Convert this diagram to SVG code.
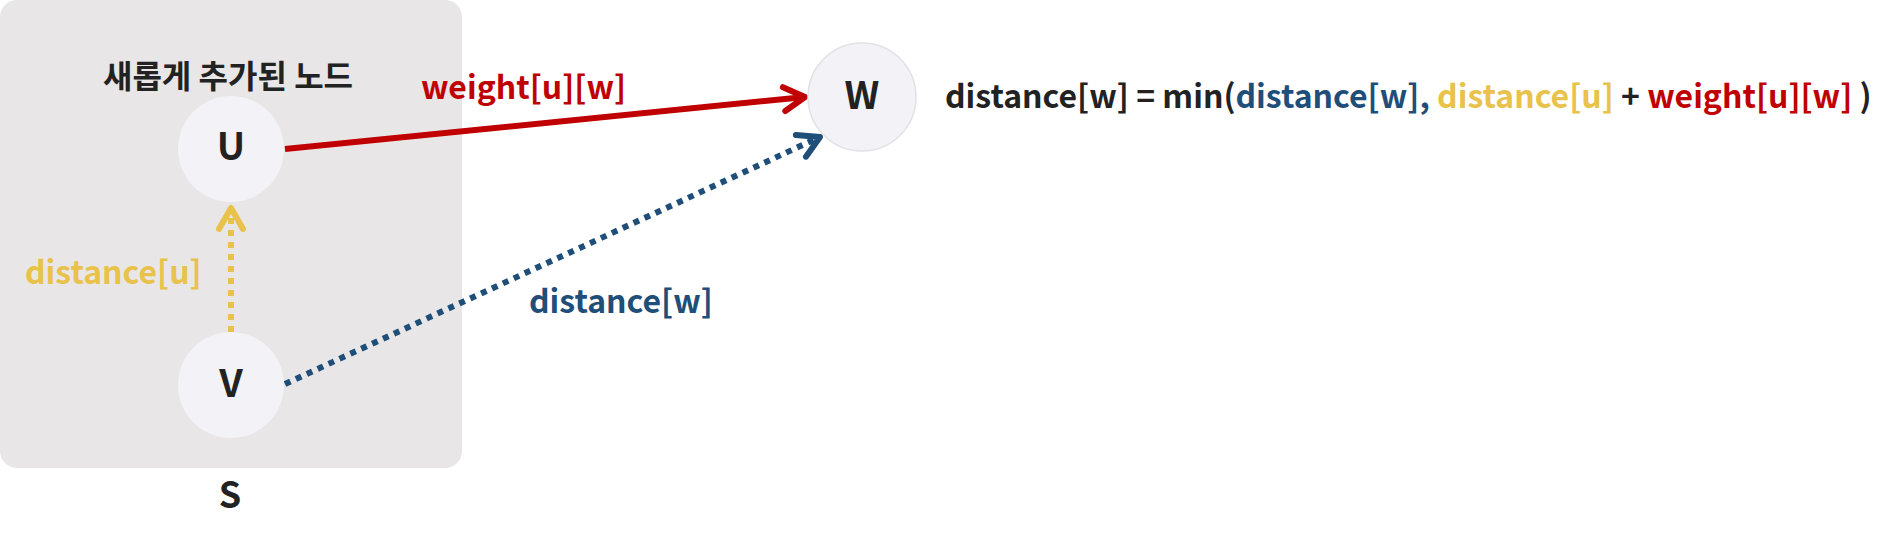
<svg xmlns="http://www.w3.org/2000/svg" width="1894" height="546" viewBox="0 0 1894 546">
<style>
text{font-family:"Noto Sans CJK KR","Noto Sans",sans-serif;font-weight:700}
.node{fill:#f3f2f6}
.lbl{font-size:38px;fill:#222;text-anchor:middle}
.red{fill:#c00000}.yel{fill:#e8c24a}.blu{fill:#1f4e79}.blk{fill:#222}
</style>
<defs>
<marker id="arR" viewBox="0 0 32 32" refX="26" refY="16" markerWidth="32" markerHeight="32" orient="auto" markerUnits="userSpaceOnUse" overflow="visible"><path d="M5,4 L26,16 L5,28" fill="none" stroke="#c00000" stroke-width="6" stroke-linecap="round" stroke-linejoin="round"/></marker>
<marker id="arY" viewBox="0 0 32 32" refX="26" refY="16" markerWidth="32" markerHeight="32" orient="auto" markerUnits="userSpaceOnUse" overflow="visible"><path d="M5,4 L26,16 L5,28" fill="none" stroke="#e8c24a" stroke-width="6" stroke-linecap="round" stroke-linejoin="round"/></marker>
<marker id="arB" viewBox="0 0 32 32" refX="26" refY="16" markerWidth="32" markerHeight="32" orient="auto" markerUnits="userSpaceOnUse" overflow="visible"><path d="M5,4 L26,16 L5,28" fill="none" stroke="#1f4e79" stroke-width="6" stroke-linecap="round" stroke-linejoin="round"/></marker>
</defs>
<g id="groupS">
<rect x="0" y="0" width="462" height="468" rx="17" fill="#e8e6e7"/>
<text x="228" y="88" font-size="32" text-anchor="middle" class="blk">새롭게 추가된 노드</text>
<text x="230" y="508" font-size="36" text-anchor="middle" class="blk">S</text>
</g>
<g id="connectors" fill="none">
<line x1="285" y1="149" x2="805" y2="97" stroke="#c00000" stroke-width="6" marker-end="url(#arR)"/>
<line x1="231" y1="332" x2="231" y2="208" stroke="#e8c24a" stroke-width="6" stroke-dasharray="6 6" marker-end="url(#arY)"/>
<line x1="285" y1="384" x2="820" y2="137" stroke="#1f4e79" stroke-width="6" stroke-dasharray="6 6" marker-end="url(#arB)"/>
<text x="421" y="99" font-size="32" class="red">weight[u][w]</text>
<text x="25" y="284" font-size="32" class="yel">distance[u]</text>
<text x="529" y="313" font-size="32" class="blu">distance[w]</text>
</g>
<g id="nodeU"><circle cx="231" cy="149" r="53" class="node"/><text x="231" y="160" class="lbl">U</text></g>
<g id="nodeV"><circle cx="231" cy="385" r="53" class="node"/><text x="231" y="397" class="lbl">V</text></g>
<g id="nodeW"><circle cx="862" cy="97" r="54" class="node" stroke="#e3e1e5" stroke-width="1.5"/><text x="862" y="109" class="lbl">W</text></g>
<g id="formula">
<text x="945" y="108" font-size="32" class="blk">distance[w] = min(<tspan class="blu">distance[w],</tspan> <tspan class="yel">distance[u]</tspan> + <tspan class="red">weight[u][w]</tspan> )</text>
</g>
</svg>
